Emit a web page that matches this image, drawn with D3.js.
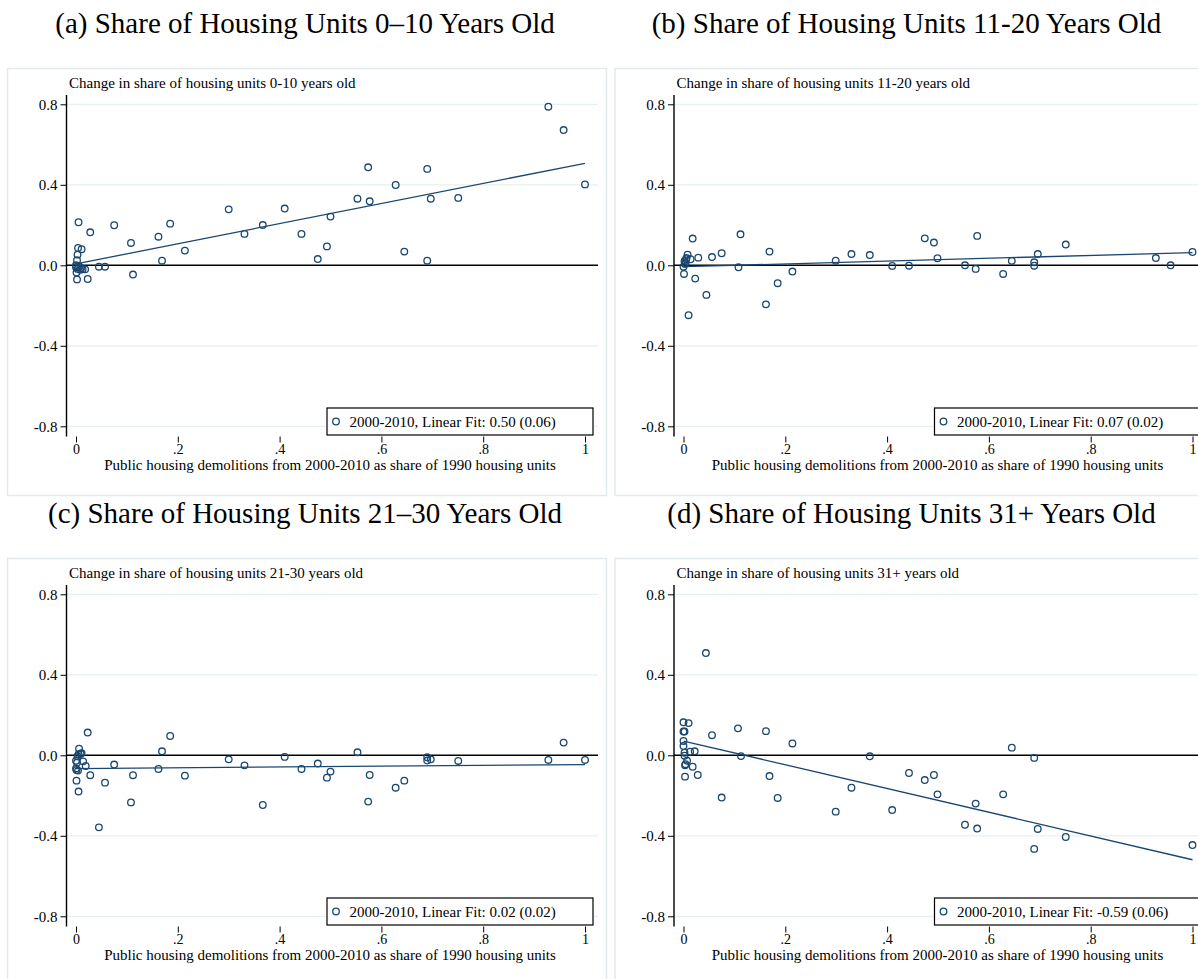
<!DOCTYPE html>
<html><head><meta charset="utf-8">
<script src="https://cdn.jsdelivr.net/npm/d3@7"></script>
<style>body{margin:0;background:#fff} svg{display:block}</style>
</head><body><svg id="c" width="1198" height="979"></svg>
<script>
const panelTitles = [
  "(a) Share of Housing Units 0\u201310 Years Old",
  "(b) Share of Housing Units 11-20 Years Old",
  "(c) Share of Housing Units 21\u201330 Years Old",
  "(d) Share of Housing Units 31+ Years Old"
];
const yTitles = [
  "Change in share of housing units 0-10 years old",
  "Change in share of housing units 11-20 years old",
  "Change in share of housing units 21-30 years old",
  "Change in share of housing units 31+ years old"
];
const xTitle = "Public housing demolitions from 2000-2010 as share of 1990 housing units";
const legendLabels = [
  "2000-2010, Linear Fit: 0.50 (0.06)",
  "2000-2010, Linear Fit: 0.07 (0.02)",
  "2000-2010, Linear Fit: 0.02 (0.02)",
  "2000-2010, Linear Fit: -0.59 (0.06)"
];
const xTicks = [0, 0.2, 0.4, 0.6, 0.8, 1];
const xTickLabels = ["0", ".2", ".4", ".6", ".8", "1"];
const yTicks = [-0.8, -0.4, 0, 0.4, 0.8];
const yTickLabels = ["-0.8", "-0.4", "0.0", "0.4", "0.8"];
const fitIntercepts = [0.007, -0.007, -0.066, 0.071];
const fitSlopes = [0.50, 0.07, 0.02, -0.59];

// Panel (a): 0-10 years old
const pointsA = [
  [0.928,0.788],[0.958,0.672],[1.0,0.402],[0.574,0.487],[0.690,0.479],[0.628,0.399],
  [0.553,0.331],[0.577,0.318],[0.697,0.331],[0.751,0.335],[0.300,0.278],[0.410,0.282],
  [0.500,0.242],[0.367,0.200],[0.331,0.156],[0.443,0.156],[0.493,0.094],[0.475,0.031],
  [0.645,0.068],[0.690,0.023],[0.214,0.073],[0.185,0.207],[0.162,0.142],[0.169,0.023],
  [0.108,0.111],[0.112,-0.046],[0.075,0.199],[0.028,0.164],[0.005,0.214],[0.045,-0.007],
  [0.057,-0.007],[0.023,-0.068],[0.004,0.086],[0.011,0.080],[0.003,0.053],[0.002,0.025],
  [0.0,0.0],[0.0,-0.010],[0.003,-0.018],[0.008,-0.022],[0.018,-0.020],[0.001,-0.036],
  [0.002,-0.070],[0.010,-0.015],[0.013,-0.020],[0.006,-0.005]
];
// Panel (b): 11-20 years old
const pointsB = [
  [0.018,0.133],[0.112,0.154],[0.169,0.068],[0.075,0.060],[0.056,0.041],[0.029,0.038],
  [0.008,0.053],[0.014,0.030],[0.005,0.030],[0.002,0.020],[0.003,0.007],[0.0,-0.007],
  [0.001,-0.043],[0.023,-0.066],[0.045,-0.147],[0.010,-0.248],[0.108,-0.010],[0.162,-0.194],
  [0.185,-0.089],[0.214,-0.031],[0.299,0.023],[0.330,0.056],[0.366,0.051],[0.410,-0.003],
  [0.443,-0.002],[0.474,0.134],[0.492,0.113],[0.499,0.035],[0.553,0.0],[0.577,0.146],
  [0.574,-0.018],[0.628,-0.043],[0.645,0.022],[0.689,0.015],[0.689,-0.002],[0.696,0.056],
  [0.751,0.103],[0.928,0.036],[0.957,0.0],[1.0,0.066],[0.006,0.036],[0.004,0.012]
];
// Panel (c): 21-30 years old
const pointsC = [
  [0.023,0.113],[0.185,0.096],[0.169,0.020],[0.006,0.033],[0.011,0.010],[0.005,0.005],
  [0.0,-0.027],[0.014,-0.030],[0.002,-0.036],[0.019,-0.053],[0.075,-0.046],[0.0,-0.065],
  [0.001,-0.073],[0.004,-0.076],[0.028,-0.099],[0.001,-0.126],[0.005,-0.180],[0.057,-0.136],
  [0.045,-0.358],[0.108,-0.234],[0.112,-0.099],[0.162,-0.068],[0.214,-0.101],[0.300,-0.020],
  [0.331,-0.050],[0.367,-0.247],[0.410,-0.008],[0.443,-0.068],[0.475,-0.041],[0.493,-0.111],
  [0.500,-0.081],[0.553,0.015],[0.577,-0.098],[0.574,-0.230],[0.628,-0.161],[0.645,-0.126],
  [0.690,-0.010],[0.690,-0.026],[0.697,-0.020],[0.751,-0.028],[0.928,-0.023],[0.958,0.063],
  [1.0,-0.023],[0.003,-0.005],[0.009,0.008]
];
// Panel (d): 31+ years old
const pointsD = [
  [0.044,0.508],[0.0,0.164],[0.010,0.160],[0.0,0.118],[0.002,0.118],[0.056,0.100],
  [0.107,0.134],[0.162,0.120],[0.214,0.059],[0.0,0.071],[0.0,0.046],[0.002,0.013],
  [0.013,0.018],[0.022,0.020],[0.002,-0.002],[0.113,-0.004],[0.007,-0.027],[0.004,-0.044],
  [0.003,-0.050],[0.018,-0.057],[0.028,-0.098],[0.003,-0.106],[0.169,-0.103],[0.075,-0.210],
  [0.185,-0.212],[0.299,-0.280],[0.330,-0.161],[0.366,-0.005],[0.410,-0.272],[0.443,-0.088],
  [0.474,-0.123],[0.492,-0.098],[0.499,-0.194],[0.553,-0.345],[0.574,-0.240],[0.577,-0.364],
  [0.628,-0.194],[0.645,0.038],[0.689,-0.013],[0.689,-0.465],[0.696,-0.366],[0.751,-0.406],
  [1.0,-0.446]
];
const allPoints = [pointsA, pointsB, pointsC, pointsD];

const color = "#1a476f";
const font = "'Liberation Serif','Times New Roman',serif";
const svg = d3.select("#c");

// panel geometry
const offsets = [[0,0],[607.5,0],[0,490],[607.5,490]];
const titleCenters = [305, 299, 305, 304];

offsets.forEach((off, i) => {
  const [dx, dy] = off;
  const g = svg.append("g").attr("transform", `translate(${dx},${dy})`);
  const x = d3.scaleLinear().domain([0,1]).range([76, 585]);
  const y = d3.scaleLinear().domain([-0.8, 0.8]).range([426.3, 104.3]);
  const axisX = 66.5, plotTop = 95, plotBottom = 436.5, plotRight = 598 + (i % 2 ? 10 : 0);

  // panel title
  g.append("text").attr("x", titleCenters[i]).attr("y", 33).attr("text-anchor", "middle")
    .attr("font-family", font).attr("font-size", 29).attr("fill", "#000")
    .text(panelTitles[i]);

  // frame
  g.append("rect").attr("x", 7.5).attr("y", 68.5).attr("width", 599).attr("height", 427)
    .attr("fill", "none").attr("stroke", "#e2eaed").attr("stroke-width", 1.5);

  // gridlines
  g.selectAll(".grid").data(yTicks.filter(v => v !== 0)).enter().append("line")
    .attr("x1", axisX).attr("x2", plotRight)
    .attr("y1", d => y(d)).attr("y2", d => y(d))
    .attr("stroke", "#e6eff1").attr("stroke-width", 1.2);

  // zero line
  g.append("line").attr("x1", axisX).attr("x2", plotRight)
    .attr("y1", y(0)).attr("y2", y(0)).attr("stroke", "#000").attr("stroke-width", 1.4);

  // y axis
  const yAxis = d3.axisLeft(y).tickValues(yTicks).tickSize(6).tickPadding(3)
    .tickFormat((d, k) => yTickLabels[k]);
  const ya = g.append("g").attr("transform", `translate(${axisX},0)`).call(yAxis);
  ya.select(".domain").remove();
  ya.selectAll("text").attr("font-family", font).attr("font-size", 15).attr("fill", "#000");
  ya.selectAll("line").attr("stroke", "#000");
  g.append("line").attr("x1", axisX).attr("x2", axisX).attr("y1", plotTop).attr("y2", plotBottom)
    .attr("stroke", "#000").attr("stroke-width", 1.4);

  // x axis
  const xAxis = d3.axisBottom(x).tickValues(xTicks).tickSize(6).tickPadding(2)
    .tickFormat((d, k) => xTickLabels[k]);
  const xa = g.append("g").attr("transform", `translate(0,${plotBottom})`).call(xAxis);
  xa.select(".domain").remove();
  xa.selectAll("text").attr("font-family", font).attr("font-size", 14).attr("fill", "#000");
  xa.selectAll("line").attr("stroke", "#000");

  // titles
  g.append("text").attr("x", 69).attr("y", 88).attr("font-family", font).attr("font-size", 15)
    .attr("fill", "#000").text(yTitles[i]);
  g.append("text").attr("x", 330).attr("y", 470).attr("text-anchor", "middle")
    .attr("font-family", font).attr("font-size", 15).attr("fill", "#000").text(xTitle);

  // fit line
  const fx = [0, 1];
  g.append("path")
    .attr("d", d3.line().x(d => x(d)).y(d => y(fitIntercepts[i] + fitSlopes[i] * d))(fx))
    .attr("fill", "none").attr("stroke", color).attr("stroke-width", 1.3);

  // points
  g.selectAll(".pt").data(allPoints[i]).enter().append("circle")
    .attr("cx", d => x(d[0])).attr("cy", d => y(d[1])).attr("r", 3.3)
    .attr("fill", "none").attr("stroke", color).attr("stroke-width", 1.3);

  // legend
  const lr = x(1) + 8, lw = 266;
  const lg = g.append("g");
  lg.append("rect").attr("x", lr - lw).attr("y", 408).attr("width", lw).attr("height", 27)
    .attr("fill", "#fff").attr("stroke", "#000").attr("stroke-width", 1.2);
  lg.append("circle").attr("cx", lr - lw + 9).attr("cy", 421.5).attr("r", 3.3)
    .attr("fill", "none").attr("stroke", color).attr("stroke-width", 1.3);
  lg.append("text").attr("x", lr - lw + 22.5).attr("y", 427).attr("font-family", font)
    .attr("font-size", 15).attr("fill", "#000").text(legendLabels[i]);
});
</script></body></html>
